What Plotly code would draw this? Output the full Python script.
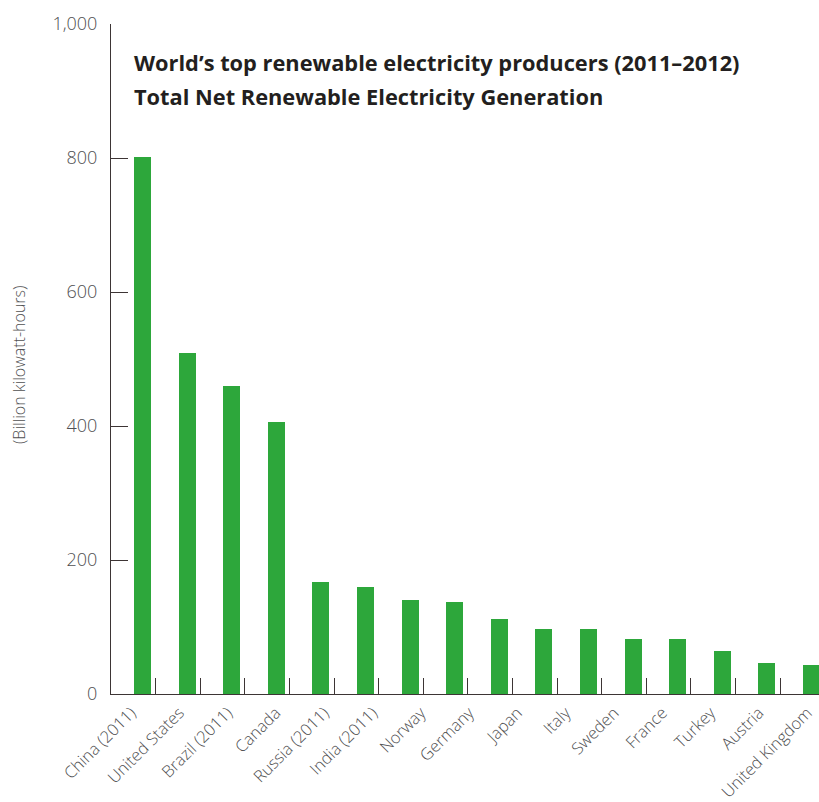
import numpy as np
import plotly.graph_objects as go

# ---- data ----
bar_values = [801, 509, 460, 406, 167, 159, 141, 138, 112, 97, 97, 82, 82, 64, 47, 43]
country_labels = ["China (2011)", "United States", "Brazil (2011)", "Canada", "Russia (2011)",
                  "India (2011)", "Norway", "Germany", "Japan", "Italy", "Sweden", "France",
                  "Turkey", "Austria", "United Kingdom"]
y_ticks = [0, 200, 400, 600, 800, 1000]
y_tick_text = ["0", "200", "400", "600", "800", "1,000"]
title_lines = ["World’s top renewable electricity producers (2011–2012)",
               "Total Net Renewable Electricity Generation"]
y_title = "(Billion kilowatt-hours)"

W, H = 819, 802
ML, MR, MT, MB = 111, 0, 24, 108
GREEN = "#2da73b"
AXIS = "#3d3535"
GRAY = "#4f4f51"
FONT = "Open Sans"

bar_x = np.arange(len(bar_values))
label_x = np.arange(len(country_labels))

fig = go.Figure()
fig.add_trace(go.Bar(x=bar_x, y=bar_values, width=0.38, marker=dict(color=GREEN, line=dict(width=0)),
                     showlegend=False, hoverinfo="skip"))
# carrier trace so the label axis is drawn (draws nothing)
fig.add_trace(go.Scatter(x=label_x, y=[None] * len(label_x), xaxis="x2", mode="markers",
                         showlegend=False, hoverinfo="skip"))

fig.update_layout(
    width=W, height=H,
    margin=dict(l=ML, r=MR, t=MT, b=MB, pad=0),
    paper_bgcolor="white", plot_bgcolor="white",
    bargap=0,
    xaxis=dict(range=[-0.706, 15.168], showgrid=False, zeroline=False, showline=True,
               linecolor=AXIS, linewidth=1, ticks="inside", ticklen=16, tickcolor=AXIS,
               tickwidth=1, tickmode="array", tickvals=list(np.arange(15) + 0.296),
               showticklabels=False),
    xaxis2=dict(overlaying="x", anchor="y", side="bottom", range=[-0.414, 14.244],
                showgrid=False, zeroline=False, showline=False, ticks="",
                tickmode="array", tickvals=list(label_x), ticktext=country_labels,
                tickangle=-45, ticklabeloverflow="allow", ticklabelstandoff=5,
                tickfont=dict(family=FONT, size=16.5, color=GRAY, weight=300)),
    yaxis=dict(range=[0, 1000], showgrid=False, zeroline=False, showline=True,
               linecolor=AXIS, linewidth=1, ticks="inside", ticklen=17, tickcolor=AXIS,
               tickwidth=1, tickmode="array", tickvals=y_ticks, ticktext=y_tick_text,
               tickfont=dict(family=FONT, size=18, color=GRAY, weight=300),
               ticklabelstandoff=9),
)

fig.add_annotation(text="<b>" + title_lines[0] + "</b>", xref="paper", yref="paper",
                   x=(132 - ML) / (W - ML - MR), y=(694 - 62) / (H - MT - MB),
                   xanchor="left", yanchor="middle", showarrow=False,
                   font=dict(family=FONT, size=21.8, color="#231f20"))
fig.add_annotation(text="<b>" + title_lines[1] + "</b>", xref="paper", yref="paper",
                   x=(132 - ML) / (W - ML - MR), y=(694 - 96) / (H - MT - MB),
                   xanchor="left", yanchor="middle", showarrow=False,
                   font=dict(family=FONT, size=21.8, color="#231f20"))
fig.add_annotation(text=y_title, xref="paper", yref="paper",
                   x=(19 - ML) / (W - ML - MR), y=(694 - 365) / (H - MT - MB),
                   xanchor="center", yanchor="middle", textangle=-90, showarrow=False,
                   font=dict(family=FONT, size=16, color=GRAY, weight=300))

fig.write_html("out.html")
